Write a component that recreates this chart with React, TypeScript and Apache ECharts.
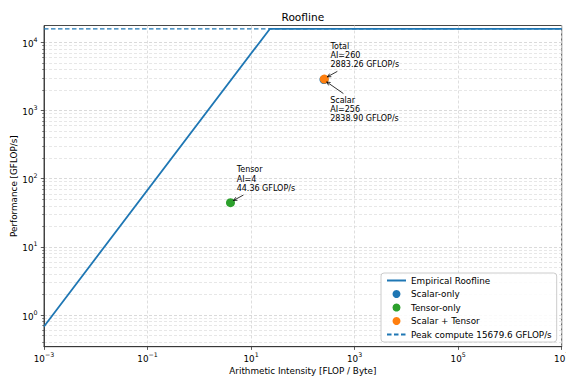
import React, { useEffect, useRef } from "react";
import * as echarts from "echarts";

const FONT = "'DejaVu Sans', sans-serif";

// Roofline
const rooflineAI = [0.001, 23.0, 1e7];
const rooflinePerf = [0.68, 15679.6, 15679.6];
const peakCompute = 15679.6;
const peakAI = [0.001, 1e7];

// Measured points
const pointSeriesNames = ["Scalar-only", "Tensor-only", "Scalar + Tensor"];
const pointAI = [256, 4, 260];
const pointPerf = [2838.9, 44.36, 2883.26];
const pointColors = ["#1f77b4", "#2ca02c", "#ff7f0e"];
const annotationTitles = ["Scalar", "Tensor", "Total"];
const annotationBelow = [true, false, false];

// Axes
const xMin = 0.001;
const xMax = 1e7;
const yMin = 0.343;
const yMax = 17600;
const xTickValues = [1e-3, 1e-1, 1e1, 1e3, 1e5, 1e7];
const yTickValues = [1, 10, 100, 1000, 10000];
const minorMantissas = [2, 3, 4, 5, 6, 7, 8, 9];
const minorDecades = [0.1, 1, 10, 100, 1000];

const yMinorValues: number[] = [];
minorDecades.forEach((d) =>
  minorMantissas.forEach((m) => {
    const v = +(m * d).toPrecision(6);
    if (v > yMin && v < yMax) yMinorValues.push(v);
  })
);

const powLabel = (v: number) => {
  const e = Math.round(Math.log10(v));
  return "{b|10}{s|" + (e < 0 ? "\u2212" + -e : String(e)) + "}";
};
const powRich = {
  b: { fontSize: 8.8, lineHeight: 12, verticalAlign: "bottom", color: "#000", fontFamily: FONT },
  s: { fontSize: 6.3, lineHeight: 12, verticalAlign: "top", color: "#000", fontFamily: FONT },
};

const BLUE = "#1f77b4";
const AXIS = "#333333";

export default function App() {
  const ref = useRef<HTMLDivElement>(null);

  useEffect(() => {
    const chart = echarts.init(ref.current!, null, { renderer: "svg" });

    const lineLegendStyle = { opacity: 0, color: "transparent", borderWidth: 0 };

    const option: any = {
      animation: false,
      backgroundColor: "#ffffff",
      textStyle: { fontFamily: FONT },
      title: {
        text: "Roofline",
        left: 281.5,
        top: 11.5,
        padding: 0,
        textStyle: { fontSize: 10.6, fontWeight: "normal", color: "#000", fontFamily: FONT },
      },
      grid: {
        left: 44,
        right: 4.3,
        top: 25.5,
        bottom: 32.3,
        containLabel: false,
        outerBoundsMode: "none",
        show: true,
        borderColor: AXIS,
        borderWidth: 0.9,
        backgroundColor: "transparent",
      },
      legend: {
        orient: "vertical",
        left: 381,
        top: 273,
        padding: [3, 5, 3, 5],
        itemGap: 4.5,
        itemWidth: 19,
        itemHeight: 8,
        backgroundColor: "rgba(255,255,255,0.85)",
        borderColor: "#cccccc",
        borderWidth: 1,
        borderRadius: 3,
        textStyle: { fontSize: 8.8, color: "#000", fontFamily: FONT },
        data: [
          { name: "Empirical Roofline", itemStyle: lineLegendStyle },
          ...pointSeriesNames.map((n) => ({ name: n, icon: "circle" })),
          { name: `Peak compute ${peakCompute} GFLOP/s`, itemStyle: lineLegendStyle },
        ],
      },
      xAxis: [
        {
          type: "log",
          logBase: 10,
          min: xMin,
          max: xMax,
          name: "Arithmetic Intensity [FLOP / Byte]",
          nameLocation: "middle",
          nameGap: 19.3,
          nameMoveOverlap: false,
          nameTextStyle: { fontSize: 8.8, color: "#000", fontFamily: FONT },
          axisLine: { show: true, lineStyle: { color: AXIS, width: 0.9 } },
          axisTick: { show: true, length: 3.2, customValues: xTickValues, lineStyle: { color: AXIS, width: 0.8 } },
          axisLabel: {
            customValues: xTickValues,
            formatter: (v: number) => powLabel(v),
            rich: powRich,
            margin: 4.5,
          },
          splitLine: { show: true, lineStyle: { color: "#d6d6d6", type: [3, 2], width: 0.8 } },
        },
      ],
      yAxis: [
        {
          type: "log",
          logBase: 10,
          min: yMin,
          max: yMax,
          name: "Performance [GFLOP/s]",
          nameLocation: "middle",
          nameGap: 25.5,
          nameMoveOverlap: false,
          nameTextStyle: { fontSize: 8.8, color: "#000", fontFamily: FONT },
          axisLine: { show: true, lineStyle: { color: AXIS, width: 0.9 } },
          axisTick: { show: true, length: 3.2, customValues: yTickValues, lineStyle: { color: AXIS, width: 0.8 } },
          axisLabel: {
            customValues: yTickValues,
            formatter: (v: number) => powLabel(v),
            rich: powRich,
            margin: 6.5,
          },
          splitLine: { show: true, lineStyle: { color: "#d0d0d0", type: [3, 2], width: 0.8 } },
        },
        {
          type: "log",
          logBase: 10,
          min: yMin,
          max: yMax,
          position: "left",
          axisLine: { show: false },
          axisTick: { show: true, length: 1.8, customValues: yMinorValues, lineStyle: { color: AXIS, width: 0.6 } },
          axisLabel: { show: false },
          splitLine: { show: true, lineStyle: { color: "#dddddd", type: [3, 2], width: 0.7 } },
        },
      ],
      series: [
        {
          name: "Empirical Roofline",
          type: "line",
          xAxisIndex: 0,
          yAxisIndex: 0,
          data: rooflineAI.map((x, i) => [x, rooflinePerf[i]]),
          symbol: "none",
          lineStyle: { color: BLUE, width: 1.8 },
          itemStyle: { color: BLUE },
          z: 3,
        },
        ...pointSeriesNames.map((name, i) => ({
          name,
          type: "scatter",
          xAxisIndex: 0,
          yAxisIndex: 0,
          data: [[pointAI[i], pointPerf[i]]],
          symbol: "circle",
          symbolSize: 9,
          itemStyle: { color: pointColors[i], opacity: 1 },
          z: 4,
        })),
        {
          name: `Peak compute ${peakCompute} GFLOP/s`,
          type: "line",
          xAxisIndex: 0,
          yAxisIndex: 0,
          data: peakAI.map((x) => [x, peakCompute]),
          symbol: "none",
          lineStyle: { color: BLUE, width: 1.3, type: [4.5, 2.5] },
          itemStyle: { color: BLUE },
          z: 3,
        },
      ],
    };

    chart.setOption(option);

    // Annotations, positioned from the data points' pixel coordinates
    const graphics: any[] = [];
    const arrow = (tx: number, ty: number, hx: number, hy: number) => {
      const ang = Math.atan2(hy - ty, hx - tx);
      const L = 4;
      const a1 = ang + Math.PI - 0.45;
      const a2 = ang + Math.PI + 0.45;
      graphics.push({
        type: "line",
        shape: { x1: tx, y1: ty, x2: hx, y2: hy },
        style: { stroke: "#000", lineWidth: 0.8 },
        z: 10,
      });
      graphics.push({
        type: "polyline",
        shape: {
          points: [
            [hx + L * Math.cos(a1), hy + L * Math.sin(a1)],
            [hx, hy],
            [hx + L * Math.cos(a2), hy + L * Math.sin(a2)],
          ],
        },
        style: { stroke: "#000", lineWidth: 0.8, fill: "none" },
        z: 10,
      });
    };

    pointAI.forEach((ai, i) => {
      const p = chart.convertToPixel({ xAxisIndex: 0, yAxisIndex: 0 }, [ai, pointPerf[i]]) as number[];
      const [px, py] = p;
      const text = `${annotationTitles[i]}\nAI=${ai}\n${pointPerf[i].toFixed(2)} GFLOP/s`;
      const below = annotationBelow[i];
      graphics.push({
        type: "text",
        x: px + 6.2,
        y: below ? py + 16.1 : py - 37.4,
        style: {
          text,
          fontSize: 8,
          fontFamily: FONT,
          fill: "#000",
          lineHeight: 9.2,
          verticalAlign: "top",
          align: "left",
        },
        z: 10,
      });
      if (below) arrow(px + 19.4, py + 14, px + 2.7, py + 2.4);
      else arrow(px + 13, py - 7.7, px + 3, py - 2.2);
    });

    chart.setOption({ graphic: graphics });

    return () => chart.dispose();
  }, []);

  return (
    <div
      ref={ref}
      style={{ position: "fixed", left: 0, top: 0, width: 566, height: 379 }}
    />
  );
}
